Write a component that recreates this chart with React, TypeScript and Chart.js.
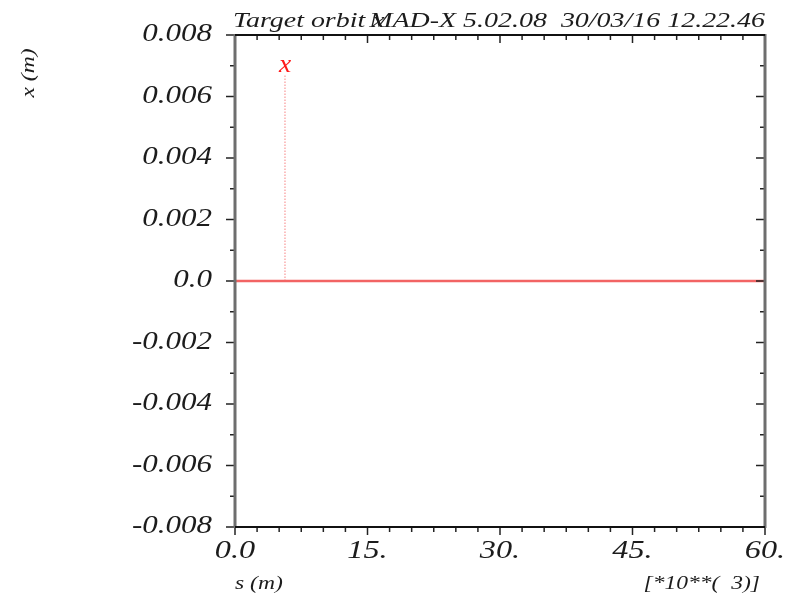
import React, { useEffect, useRef } from "react";
import { Chart, registerables } from "chart.js";
Chart.register(...registerables);

// ---- data ----
const orbitS = [0, 10000, 20000, 30000, 40000, 50000, 60000];
const orbitX = [0, 0, 0, 0, 0, 0, 0];
const labelLineS = [5660, 5660];
const labelLineX = [0, 0.0067];
const curveName = "x";
const xTickLabels = ["0.0", "15.", "30.", "45.", "60."];
const titleLeft = "Target orbit x";
const titleRight = "MAD-X 5.02.08  30/03/16 12.22.46";
const xAxisTitle = "s (m)";
const xAxisScale = "[*10**(  3)]";
const yAxisTitle = "x (m)";

const FONT = '"Liberation Serif", "Times New Roman", serif';
const TEXT = "#1c1c1c";
const SX = 1.24;

function stretchText(
  ctx: CanvasRenderingContext2D,
  text: string,
  x: number,
  y: number,
  size: number,
  align: CanvasTextAlign,
  color: string,
  rot = 0,
  sx = SX
) {
  ctx.save();
  ctx.translate(x, y);
  if (rot) ctx.rotate(rot);
  ctx.scale(sx, 1);
  ctx.font = `italic ${size}px ${FONT}`;
  ctx.fillStyle = color;
  ctx.textAlign = align;
  ctx.textBaseline = "alphabetic";
  ctx.fillText(text, 0, 0);
  ctx.restore();
}

const framePlugin = {
  id: "madxFrame",
  afterDatasetsDraw(chart: any) {
    const ctx: CanvasRenderingContext2D = chart.ctx;
    const xs = chart.scales.x;
    const ys = chart.scales.y;
    const { left, right, top, bottom } = chart.chartArea;
    ctx.save();
    // ticks
    ctx.strokeStyle = "#222";
    ctx.lineWidth = 1.5;
    const line = (x1: number, y1: number, x2: number, y2: number) => {
      ctx.beginPath();
      ctx.moveTo(x1, y1);
      ctx.lineTo(x2, y2);
      ctx.stroke();
    };
    // x minor ticks every 2500
    for (let v = xs.min; v <= xs.max + 1e-6; v += 2500) {
      const px = xs.getPixelForValue(v);
      const major = Math.abs(v % 15000) < 1e-6;
      const len = major ? 8 : 5;
      line(px, bottom, px, bottom + len);
      line(px, top, px, top + len);
    }
    // y minor ticks every 0.001
    for (let i = 0; i <= 16; i++) {
      const v = ys.min + i * 0.001;
      const py = ys.getPixelForValue(v);
      const major = i % 2 === 0;
      const len = major ? 9 : 5;
      line(left - len, py, left, py);
      line(right - len, py, right, py);
    }
    // frame
    ctx.lineWidth = 3;
    ctx.strokeStyle = "#6e6e6e";
    line(left, top - 1, left, bottom + 1);
    line(right, top - 1, right, bottom + 1);
    ctx.lineWidth = 2;
    ctx.strokeStyle = "#111";
    line(left, top, right, top);
    line(left, bottom, right, bottom);

    // tick labels
    xs.ticks.forEach((t: any, i: number) => {
      const px = xs.getPixelForValue(t.value);
      stretchText(ctx, xTickLabels[i] ?? "", px, bottom + 31, 26, "center", TEXT);
    });
    ys.ticks.forEach((t: any) => {
      const py = ys.getPixelForValue(t.value);
      const lab = Math.abs(t.value) < 1e-9 ? "0.0" : t.value.toFixed(3);
      stretchText(ctx, lab, left - 23, py + 6, 25, "right", TEXT);
    });

    // titles
    stretchText(ctx, titleLeft, left - 2, 27, 22, "left", TEXT, 0, 1.27);
    stretchText(ctx, titleRight, right, 27, 22, "right", TEXT, 0, 1.27);
    stretchText(ctx, xAxisTitle, left, 589, 19, "left", TEXT);
    stretchText(ctx, xAxisScale, right - 5, 589, 19, "right", TEXT);
    stretchText(ctx, yAxisTitle, 34, 73, 19, "center", TEXT, -Math.PI / 2);

    // curve label
    const meta = chart.getDatasetMeta(1);
    const topPt = meta.data[1];
    if (topPt) {
      stretchText(ctx, curveName, topPt.x, topPt.y - 3, 25, "center", "#ff1a1a", 0, 1.1);
    }
    ctx.restore();
  },
};

export default function App() {
  const ref = useRef<HTMLCanvasElement>(null);
  useEffect(() => {
    if (!ref.current) return;
    const chart = new Chart(ref.current, {
      type: "line",
      data: {
        datasets: [
          {
            label: "x",
            data: orbitS.map((s, i) => ({ x: s, y: orbitX[i] })),
            borderColor: "#f26464",
            borderWidth: 2.5,
            pointRadius: 0,
          },
          {
            label: "label",
            data: labelLineS.map((s, i) => ({ x: s, y: labelLineX[i] })),
            borderColor: "rgba(245,90,90,0.75)",
            borderWidth: 1,
            borderDash: [1.5, 1.5],
            pointRadius: 0,
          },
        ],
      },
      options: {
        animation: false,
        responsive: true,
        maintainAspectRatio: false,
        layout: { padding: { left: 235, right: 22, top: 35, bottom: 71 } },
        plugins: { legend: { display: false }, tooltip: { enabled: false }, title: { display: false } },
        scales: {
          x: { type: "linear", display: false, min: 0, max: 60000, ticks: { stepSize: 15000 } },
          y: { type: "linear", display: false, min: -0.008, max: 0.008, ticks: { stepSize: 0.002 } },
        },
      },
      plugins: [framePlugin],
    });
    return () => chart.destroy();
  }, []);
  return (
    <div style={{ position: "fixed", left: 0, top: 0, width: 787, height: 598, background: "#fff" }}>
      <canvas ref={ref} style={{ display: "block" }} />
    </div>
  );
}
